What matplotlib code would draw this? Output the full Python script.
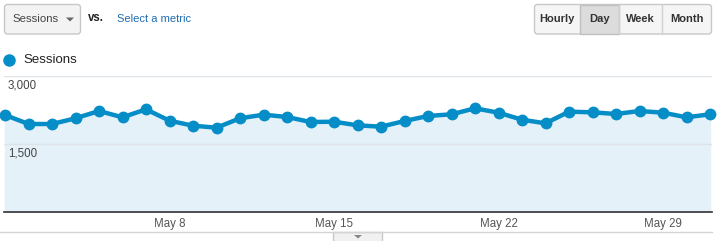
import matplotlib
matplotlib.use("Agg")
import matplotlib.pyplot as plt
from matplotlib.patches import FancyBboxPatch, Rectangle, Polygon

plt.rcParams['font.family'] = ['Liberation Sans', 'DejaVu Sans']

# daily sessions, May 1 - May 31
days = list(range(1, 32))
sessions = [2140, 1941, 1941, 2067, 2228, 2089, 2265, 2014, 1904, 1860,
            2067, 2147, 2096, 1985, 1992, 1912, 1882, 2007, 2118, 2155,
            2287, 2191, 2036, 1956, 2213, 2199, 2162, 2228, 2191, 2089, 2155]
tick_days = [8, 15, 22, 29]
tick_labels = ["May 8", "May 15", "May 22", "May 29"]
y_ticks = [1500, 3000]
y_labels = ["1,500", "3,000"]
buttons = ["Hourly", "Day", "Week", "Month"]
button_edges = [534, 580, 619, 662, 712]

W, H = 719, 241
fig = plt.figure(figsize=(W / 100, H / 100), dpi=100)
fig.patch.set_facecolor("white")

# main chart area in pixel terms
left, right, top, bottom = 4, 712, 76, 212
ax = fig.add_axes([left / W, (H - bottom) / H, (right - left) / W, (bottom - top) / H])
step = (710 - 5) / 30
x0 = 1 - (5 - left) / step
x1 = 1 + (right - 5) / step
ax.set_xlim(x0, x1)
ax.set_ylim(0, 3000)
ax.fill_between(days, sessions, 0, color="#e5f1f8", zorder=1)
ax.plot(days, sessions, color="#058dc7", lw=3.2, marker="o", ms=7.5,
        solid_joinstyle="round", zorder=3, clip_on=False)
for yt in y_ticks:
    ax.axhline(yt, color="#dde3e6", lw=1, zorder=2)
for yt, lab in zip(y_ticks, y_labels):
    ax.text(x0 + 4 / step, yt - 70, lab, ha="left", va="top", fontsize=8.3, color="#444444")
ax.set_xticks(tick_days)
ax.set_xticklabels(tick_labels, fontsize=8.3, color="#555555")
ax.tick_params(axis="x", length=0, pad=4)
ax.set_yticks([])
for s in ["top", "left", "right"]:
    ax.spines[s].set_visible(False)
ax.spines["bottom"].set_color("#333333")
ax.spines["bottom"].set_linewidth(1.2)

# overlay for the surrounding widgets
ui = fig.add_axes([0, 0, 1, 1], zorder=-1)
ui.set_xlim(0, W)
ui.set_ylim(H, 0)
ui.axis("off")

# metric dropdown
ui.add_patch(FancyBboxPatch((4.5, 4.5), 76, 29.5, boxstyle="round,pad=0,rounding_size=3",
                            fc="#f3f3f3", ec="#c8c8c8", lw=1))
ui.text(12, 19.5, "Sessions", fontsize=8.2, color="#444444", va="center")
ui.add_patch(Polygon([[66, 17.5], [74, 17.5], [70, 21.5]], closed=True, fc="#666666", ec="none"))
ui.text(88, 18, "vs.", fontsize=8.3, color="#222222", va="center", fontweight="bold")
ui.text(117, 19, "Select a metric", fontsize=8, color="#1f6cb0", va="center")

# legend
ui.plot([9], [59.5], "o", ms=8, color="#058dc7")
ui.text(23, 60, "Sessions", fontsize=9.5, color="#222222", va="center")

# period buttons
ui.add_patch(FancyBboxPatch((534.5, 4.5), 177, 29.5, boxstyle="round,pad=0,rounding_size=3",
                            fc="#f5f5f5", ec="#c8c8c8", lw=1))
ui.add_patch(Rectangle((button_edges[1], 5), button_edges[2] - button_edges[1], 29,
                       fc="#dcdcdc", ec="#c0c0c0", lw=1))
for e in button_edges[2:-1]:
    ui.plot([e, e], [5, 34], color="#d0d0d0", lw=1)
for lab, a, b in zip(buttons, button_edges[:-1], button_edges[1:]):
    ui.text((a + b) / 2, 19.5, lab, ha="center", va="center", fontsize=8,
            fontweight="bold", color="#333333")

# bottom strip and collapse tab
ui.plot([0, 712], [232, 232], color="#d4d4d4", lw=1)
ui.add_patch(Rectangle((333, 232), 49, 10, fc="#f1f1f1", ec="#c8c8c8", lw=1))
ui.add_patch(Polygon([[354, 235], [362, 235], [358, 238.5]], closed=True, fc="#888888", ec="none"))

fig.savefig("out.png", dpi=100, facecolor="white")
